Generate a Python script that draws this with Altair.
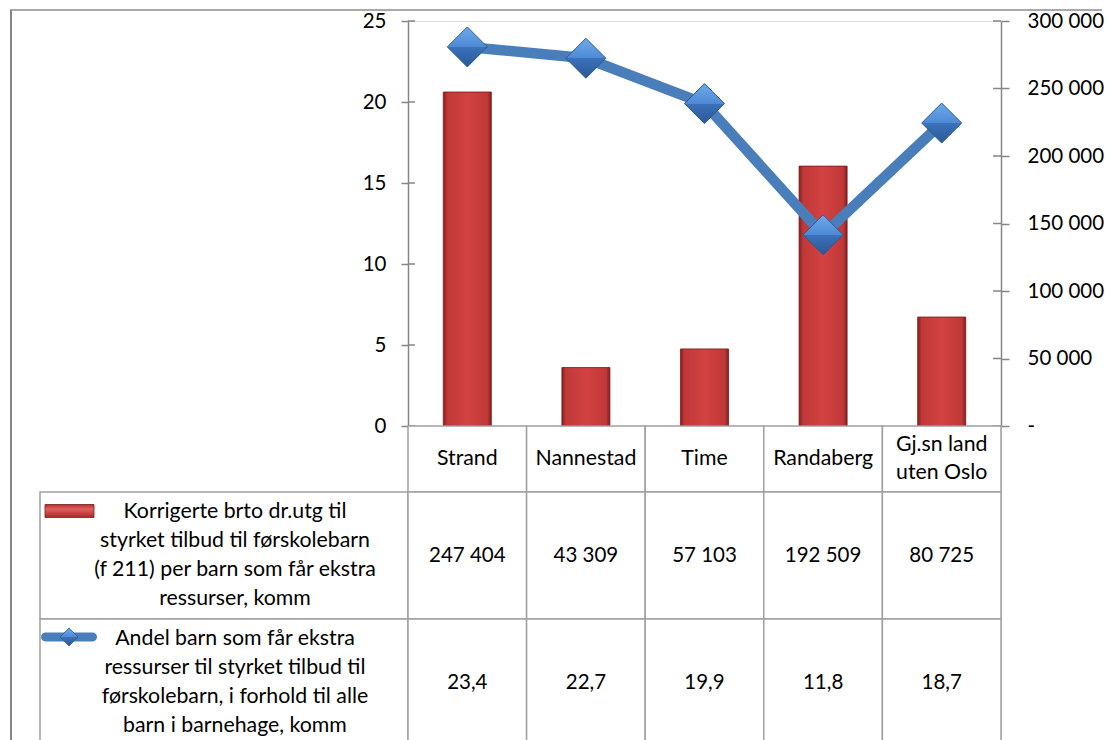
import altair as alt
import pandas as pd

# ---- data ----
categories = ["Strand", "Nannestad", "Time", "Randaberg", "Gj.sn land uten Oslo"]
category_labels = ["Strand", "Nannestad", "Time", "Randaberg", "Gj.sn land\nuten Oslo"]
cost_per_child = [247404, 43309, 57103, 192509, 80725]
share_pct = [23.4, 22.7, 19.9, 11.8, 18.7]
series_names = [
    "Korrigerte brto dr.utg til\nstyrket tilbud til førskolebarn\n(f 211) per barn som får ekstra\nressurser, komm",
    "Andel barn som får ekstra\nressurser til styrket tilbud til\nførskolebarn, i forhold til alle\nbarn i barnehage, komm",
]
row_ids = ["r1", "r2"]
left_ticks = [0, 5, 10, 15, 20, 25]
right_ticks = [0, 50000, 100000, 150000, 200000, 250000, 300000]

df = pd.DataFrame({"category": categories, "cost": cost_per_child, "share": share_pct})
hdr = pd.DataFrame({"category": categories, "label": category_labels})
lt_df = pd.DataFrame({"share": left_ticks})
rt_df = pd.DataFrame({"cost": right_ticks})

def fmt_cost(v):
    return f"{v:,}".replace(",", " ")

def fmt_share(v):
    return f"{v:.1f}".replace(".", ",")

cells = []
for c, v, s in zip(categories, cost_per_child, share_pct):
    cells.append({"category": c, "row": row_ids[0], "txt": fmt_cost(v)})
    cells.append({"category": c, "row": row_ids[1], "txt": fmt_share(s)})
cells = pd.DataFrame(cells)
leg = pd.DataFrame({"row": row_ids, "name": series_names})

FONT = "Lato"
FS_NUM = 20.5
FS_TXT = 21.3
GRID = "#a0a0a0"
AXC = "#868686"

red_grad = {
    "gradient": "linear", "x1": 0, "x2": 1, "y1": 0, "y2": 0,
    "stops": [
        {"offset": 0, "color": "#861c1c"},
        {"offset": 0.08, "color": "#c03838"},
        {"offset": 0.5, "color": "#d34242"},
        {"offset": 0.92, "color": "#c03838"},
        {"offset": 1, "color": "#861c1c"},
    ],
}
blue_grad = {
    "gradient": "linear", "x1": 0, "x2": 0, "y1": 0, "y2": 1,
    "stops": [
        {"offset": 0, "color": "#6eaaec"},
        {"offset": 0.5, "color": "#4d8ad4"},
        {"offset": 0.5, "color": "#3b72ba"},
        {"offset": 1, "color": "#2a5896"},
    ],
}

W_LEG = 368
W_MAIN = 593
H_MAIN = 405
H_HDR = 66
H_ROWS = 254

xcat = alt.X("category:N", sort=categories,
             scale=alt.Scale(paddingInner=0.595, paddingOuter=0.2975), axis=None)
yshare_scale = alt.Scale(domain=[0, 25], nice=False)
ycost_scale = alt.Scale(domain=[0, 300000], nice=False)

bars = alt.Chart(df).mark_bar(fill=red_grad, stroke="#7a1a1a", strokeWidth=0.8).encode(
    x=xcat,
    y=alt.Y("cost:Q", scale=ycost_scale,
            axis=alt.Axis(orient="right", values=right_ticks, title=None, grid=False,
                          labelExpr="datum.value == 0 ? '-' : replace(format(datum.value, ','), regexp(',', 'g'), ' ')",
                          domainColor=AXC, domainWidth=1.5, tickColor=AXC, tickWidth=1.5, tickSize=8,
                          labelPadding=18, labelFontSize=FS_NUM, labelFont=FONT, labelColor="#000000")),
)
# inner half of the cross-style tick marks (right axis)
rticks_in = alt.Chart(rt_df).mark_rule(color=AXC, strokeWidth=1.5).encode(
    y=alt.Y("cost:Q", scale=ycost_scale), x=alt.value(W_MAIN - 8), x2=alt.value(W_MAIN))
line = alt.Chart(df).mark_line(color="#4a7ebb", strokeWidth=10.5).encode(
    x=xcat,
    y=alt.Y("share:Q", scale=yshare_scale,
            axis=alt.Axis(orient="left", values=left_ticks, title=None, grid=False,
                          domainColor=AXC, domainWidth=1.5, tickColor=AXC, tickWidth=1.5, tickSize=7,
                          labelPadding=15, labelFontSize=FS_NUM, labelFont=FONT, labelColor="#000000")),
)
lticks_in = alt.Chart(lt_df).mark_rule(color=AXC, strokeWidth=1.5).encode(
    y=alt.Y("share:Q", scale=yshare_scale), x=alt.value(0), x2=alt.value(7))
pts = alt.Chart(df).mark_point(shape="diamond", size=1600, filled=True, fill=blue_grad, opacity=1,
                               stroke="#2c5a94", strokeWidth=1).encode(
    x=xcat,
    y=alt.Y("share:Q", scale=yshare_scale),
)
main = alt.layer(alt.layer(rticks_in, bars), alt.layer(lticks_in, line, pts)).resolve_scale(
    y="independent").properties(width=W_MAIN, height=H_MAIN)

def spacer(h):
    return alt.Chart(pd.DataFrame({"v": [0]})).mark_point(opacity=0).properties(width=W_LEG, height=h)

xtab = alt.X("category:N", sort=categories, scale=alt.Scale(padding=0), axis=None)

hdr_cells = alt.Chart(hdr).mark_rect(fill="white", stroke=GRID, strokeWidth=1.5).encode(x=xtab)
hdr_text1 = alt.Chart(hdr).transform_filter("indexof(datum.label, '\\n') < 0").mark_text(
    font=FONT, fontSize=FS_TXT, color="#000000", baseline="middle").encode(x=xtab, text="label:N")
hdr_text2 = alt.Chart(hdr).transform_filter("indexof(datum.label, '\\n') >= 0").mark_text(
    font=FONT, fontSize=FS_TXT, color="#000000", lineBreak="\n", lineHeight=28,
    baseline="middle", dy=-14).encode(x=xtab, text="label:N")
header = alt.layer(hdr_cells, hdr_text1, hdr_text2).properties(width=W_MAIN, height=H_HDR)

ytab = alt.Y("row:N", sort=row_ids, scale=alt.Scale(padding=0), axis=None)
val_cells = alt.Chart(cells).mark_rect(fill="white", stroke=GRID, strokeWidth=1.5).encode(x=xtab, y=ytab)
val_text = alt.Chart(cells).mark_text(font=FONT, fontSize=FS_NUM, color="#000000", baseline="middle").encode(
    x=xtab, y=ytab, text="txt:N")
values_tbl = alt.layer(val_cells, val_text).properties(width=W_MAIN, height=H_ROWS)

# outer chart-area frame (left and top edges of the Excel chart box)
frame_df = pd.DataFrame({"v": [0]})
FRAME_TOP = -(H_MAIN + H_HDR) - 11
frame_left = alt.Chart(frame_df).mark_rule(color="#868686", strokeWidth=2).encode(
    x=alt.value(-29), y=alt.value(FRAME_TOP), y2=alt.value(290))
frame_top = alt.Chart(frame_df).mark_rule(color="#8c8c8c", strokeWidth=1.5).encode(
    x=alt.value(-30), x2=alt.value(1062), y=alt.value(FRAME_TOP))

leg_cells = alt.Chart(leg).mark_rect(fill="white", stroke=GRID, strokeWidth=1.5).encode(y=ytab)
leg_text = alt.Chart(leg).mark_text(font=FONT, fontSize=FS_TXT, color="#000000", lineBreak="\n",
                                    lineHeight=29.3, baseline="middle", dx=11, dy=-44).encode(
    y=ytab, text="name:N")
key_bar = alt.Chart(leg[leg.row == "r1"]).mark_point(
    shape="M-1,-0.265L1,-0.265L1,0.265L-1,0.265Z", size=2401, filled=True, opacity=1,
    fill={"gradient": "linear", "x1": 0, "x2": 0, "y1": 0, "y2": 1,
          "stops": [{"offset": 0, "color": "#b52e2e"}, {"offset": 0.35, "color": "#e06060"},
                    {"offset": 1, "color": "#a82828"}]},
    stroke="#7a1a1a", strokeWidth=0.8).encode(
    x=alt.value(29.5), y=ytab, yOffset=alt.value(19))
key_line = alt.Chart(leg[leg.row == "r2"]).mark_point(
    shape="M-0.84,-0.16L0.84,-0.16A0.16,0.16 0 0 1 0.84,0.16L-0.84,0.16A0.16,0.16 0 0 1 -0.84,-0.16Z",
    size=3136, filled=True, opacity=1, fill="#4a7ebb").encode(
    x=alt.value(29), y=ytab, yOffset=alt.value(18))
key_dia = alt.Chart(leg[leg.row == "r2"]).mark_point(
    shape="diamond", size=324, filled=True, opacity=1, fill=blue_grad, stroke="#2c5a94", strokeWidth=0.8).encode(
    x=alt.value(29), y=ytab, yOffset=alt.value(18))
legend_tbl = alt.layer(leg_cells, leg_text, key_bar, key_line, key_dia, frame_left, frame_top).properties(
    width=W_LEG, height=H_ROWS)

chart = alt.concat(
    spacer(H_MAIN), main,
    spacer(H_HDR), header,
    legend_tbl, values_tbl,
    columns=2, spacing=0, bounds="flush",
).properties(
    padding={"left": 0, "top": 0, "right": 0, "bottom": 0},
    background="white",
).configure_view(stroke=None).configure(font=FONT)

chart.save("out.html", embed_options={"renderer": "svg", "actions": False})
